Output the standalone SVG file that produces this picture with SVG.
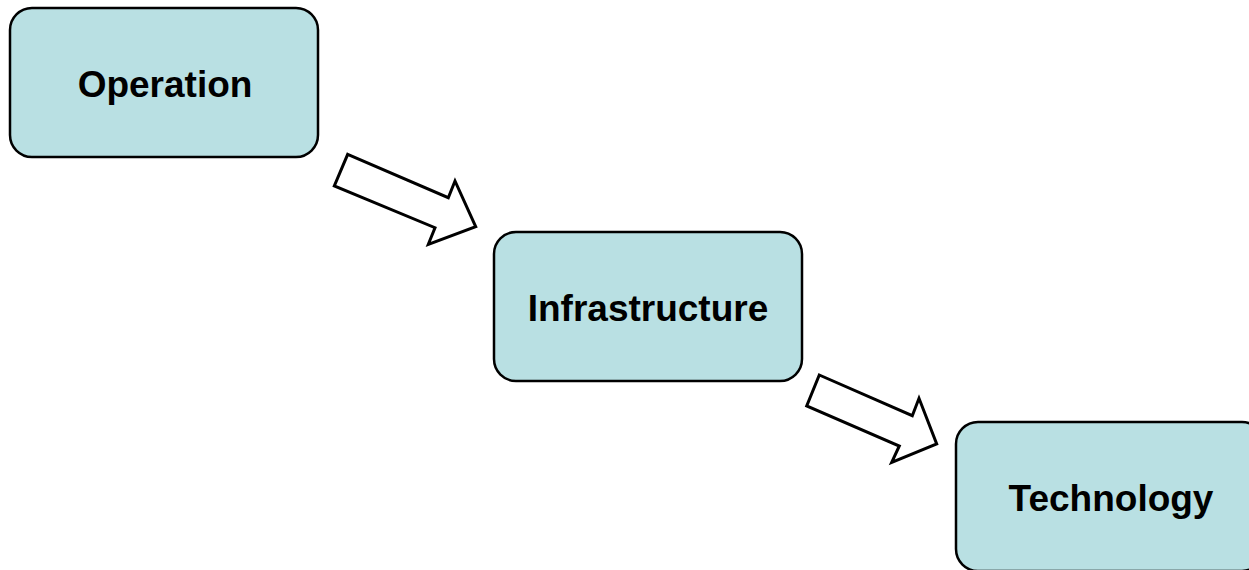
<svg xmlns="http://www.w3.org/2000/svg" width="1249" height="570" viewBox="0 0 1249 570">
  <style>
    .box { fill: #b9e0e3; stroke: #000; stroke-width: 2.5; }
    .label { font-family: "Liberation Sans", Arial, sans-serif; font-weight: bold; font-size: 37px; fill: #000; text-anchor: middle; }
    .arrow { fill: #fff; stroke: #000; stroke-width: 3; stroke-linejoin: miter; }
  </style>
  <rect width="1249" height="570" fill="#fff"/>
  <g id="operation">
    <rect class="box" x="10" y="8" width="308" height="149" rx="22" ry="22"/>
    <text class="label" x="165" y="97">Operation</text>
  </g>
  <g id="infrastructure">
    <rect class="box" x="494" y="232" width="308" height="149" rx="22" ry="22"/>
    <text class="label" x="648" y="321">Infrastructure</text>
  </g>
  <g id="technology">
    <rect class="box" x="956" y="422" width="308" height="149" rx="22" ry="22"/>
    <text class="label" x="1111" y="511">Technology</text>
  </g>
  <g id="connectors">
    <polygon class="arrow" points="347.7,154.3 448.3,197.7 455,181 475.7,226.7 428.3,244.3 435,227.7 334.3,186"/>
    <polygon class="arrow" points="819.3,375 912.3,415.7 919,398.3 936.7,444 891.7,462.3 899.3,446 806.7,406"/>
  </g>
</svg>
